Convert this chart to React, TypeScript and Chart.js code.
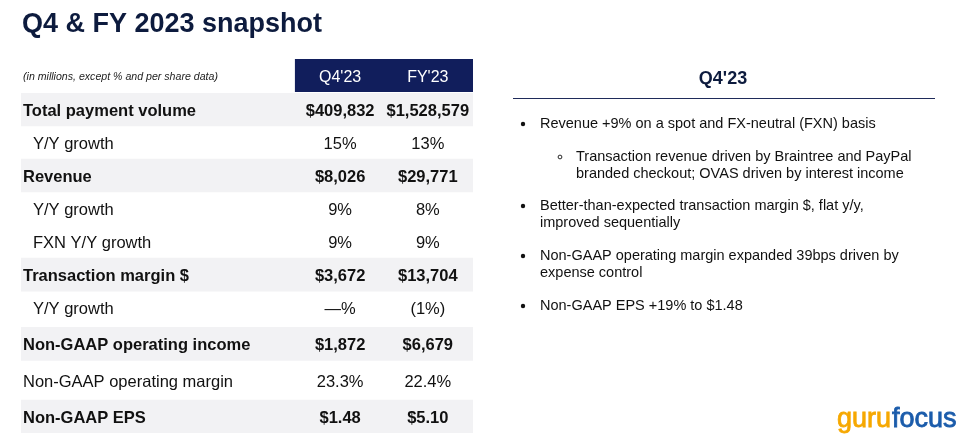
import React, { useEffect, useRef } from "react";
import { Chart, registerables } from "chart.js";

Chart.register(...registerables);

// ---- data ----
const pageTitle = "Q4 & FY 2023 snapshot";
const unitNote = "(in millions, except % and per share data)";
const columnLabels = ["Q4'23", "FY'23"];
const rowLabels = [
  "Total payment volume",
  "Y/Y growth",
  "Revenue",
  "Y/Y growth",
  "FXN Y/Y growth",
  "Transaction margin $",
  "Y/Y growth",
  "Non-GAAP operating income",
  "Non-GAAP operating margin",
  "Non-GAAP EPS",
];
const rowKinds = ["major", "sub", "major", "sub", "sub", "major", "sub", "major", "plain", "major"];
const q4Values = ["$409,832", "15%", "$8,026", "9%", "9%", "$3,672", "—%", "$1,872", "23.3%", "$1.48"];
const fyValues = ["$1,528,579", "13%", "$29,771", "8%", "9%", "$13,704", "(1%)", "$6,679", "22.4%", "$5.10"];
const panelTitle = "Q4'23";
const bullets: { level: number; lines: string[] }[] = [
  { level: 0, lines: ["Revenue +9% on a spot and FX-neutral (FXN) basis"] },
  { level: 1, lines: ["Transaction revenue driven by Braintree and PayPal", "branded checkout; OVAS driven by interest income"] },
  { level: 0, lines: ["Better-than-expected transaction margin $, flat y/y,", "improved sequentially"] },
  { level: 0, lines: ["Non-GAAP operating margin expanded 39bps driven by", "expense control"] },
  { level: 0, lines: ["Non-GAAP EPS +19% to $1.48"] },
];

// ---- layout (style) ----
const FONT = '"Liberation Sans", Arial, sans-serif';
const NAVY = "#0d1b3e";
const HEADER_BG = "#111e5c";
const SHADE = "#f2f2f4";
const TEXT = "#111111";
const COL_CENTERS = [70.6, 90.0]; // in table-width percent
const HEADER_START = 60.6;
const TEXT_NUDGE = 2;
const rowSteps = rowLabels.map((_, i) => (i === 0 ? 0 : i >= 7 ? 1.1 : 1));
const rowPositions = rowSteps.reduce<number[]>((acc, s, i) => {
  acc.push(i === 0 ? 0 : acc[i - 1] + s);
  return acc;
}, []);

export default function App() {
  const ref = useRef<HTMLCanvasElement | null>(null);

  useEffect(() => {
    document.body.style.margin = "0";
    document.body.style.background = "#ffffff";
    const canvas = ref.current!;
    const lastPos = rowPositions[rowPositions.length - 1];

    const textPlugin = {
      id: "slideText",
      afterDatasetsDraw(chart: any) {
        const ctx = chart.ctx as CanvasRenderingContext2D;
        const xs = chart.scales.x;
        const ys = chart.scales.y;
        ctx.save();

        // Title
        ctx.fillStyle = NAVY;
        ctx.font = `bold 27px ${FONT}`;
        ctx.textAlign = "left";
        ctx.textBaseline = "alphabetic";
        ctx.fillText(pageTitle, 22, 32);

        // Unit note
        ctx.fillStyle = "#222222";
        ctx.font = `italic 10.6px ${FONT}`;
        ctx.textBaseline = "middle";
        ctx.fillText(unitNote, 23, 77);

        // Header box
        const hx0 = xs.getPixelForValue(HEADER_START);
        const hx1 = xs.getPixelForValue(100);
        ctx.fillStyle = HEADER_BG;
        ctx.fillRect(hx0, 59, hx1 - hx0, 33);
        ctx.fillStyle = "#ffffff";
        ctx.font = `16px ${FONT}`;
        ctx.textAlign = "center";
        columnLabels.forEach((c, j) => {
          ctx.fillText(c, xs.getPixelForValue(COL_CENTERS[j]), 78);
        });

        // Rows
        rowLabels.forEach((label, i) => {
          const y = ys.getPixelForValue(rowPositions[i]) + TEXT_NUDGE;
          const kind = rowKinds[i];
          const bold = kind === "major";
          ctx.fillStyle = TEXT;
          ctx.font = `${bold ? "bold " : ""}16.5px ${FONT}`;
          ctx.textAlign = "left";
          ctx.fillText(label, kind === "sub" ? 33 : 23, y);
          ctx.textAlign = "center";
          ctx.fillText(q4Values[i], xs.getPixelForValue(COL_CENTERS[0]), y);
          ctx.fillText(fyValues[i], xs.getPixelForValue(COL_CENTERS[1]), y);
        });

        // Right panel
        ctx.fillStyle = NAVY;
        ctx.font = `bold 18px ${FONT}`;
        ctx.textAlign = "center";
        ctx.fillText(panelTitle, 723, 79);
        ctx.strokeStyle = "#1f2b5a";
        ctx.lineWidth = 1;
        ctx.beginPath();
        ctx.moveTo(513, 98.5);
        ctx.lineTo(935, 98.5);
        ctx.stroke();

        ctx.font = `14.5px ${FONT}`;
        ctx.textAlign = "left";
        ctx.fillStyle = TEXT;
        const lineH = 17;
        const gaps = [0, 33, 49, 50, 50];
        let y = 124;
        bullets.forEach((b, bi) => {
          if (bi > 0) y += gaps[bi];
          const bx = b.level === 0 ? 523 : 560;
          const tx = b.level === 0 ? 540 : 576;
          ctx.beginPath();
          if (b.level === 0) {
            ctx.arc(bx, y, 2.2, 0, Math.PI * 2);
            ctx.fill();
          } else {
            ctx.lineWidth = 0.9;
            ctx.strokeStyle = TEXT;
            ctx.arc(bx, y, 1.9, 0, Math.PI * 2);
            ctx.stroke();
          }
          b.lines.forEach((ln, li) => {
            ctx.fillText(ln, tx, y + li * lineH);
          });
        });

        // Logo
        ctx.font = `27px ${FONT}`;
        ctx.textBaseline = "alphabetic";
        ctx.textAlign = "left";
        ctx.lineWidth = 0.8;
        ctx.fillStyle = "#f6a800";
        ctx.strokeStyle = "#f6a800";
        ctx.fillText("guru", 837, 427);
        ctx.strokeText("guru", 837, 427);
        const gw = ctx.measureText("guru").width;
        ctx.fillStyle = "#1b5cab";
        ctx.strokeStyle = "#1b5cab";
        ctx.fillText("focus", 837 + gw + 1, 427);
        ctx.strokeText("focus", 837 + gw + 1, 427);

        ctx.restore();
      },
    };

    const shadeData = rowPositions
      .map((p, i) => ({ y: p, x: [0, 100], kind: rowKinds[i] }))
      .filter((d) => d.kind === "major")
      .map((d) => ({ y: d.y, x: d.x }));

    const chart = new Chart(canvas, {
      type: "bar",
      data: {
        datasets: [
          {
            data: shadeData as any,
            backgroundColor: SHADE,
            borderWidth: 0,
            barThickness: 33,
          } as any,
        ],
      },
      options: {
        indexAxis: "y",
        responsive: false,
        animation: false,
        devicePixelRatio: 1,
        layout: { padding: { left: 21, right: 487, top: 93, bottom: 8 } },
        plugins: { legend: { display: false }, tooltip: { enabled: false } },
        scales: {
          x: { type: "linear", min: 0, max: 100, display: false, offset: false },
          y: {
            type: "linear",
            min: -0.5,
            max: lastPos + 0.5,
            reverse: true,
            display: false,
            offset: false,
            grid: { offset: false },
          },
        },
      },
      plugins: [textPlugin],
    });
    return () => chart.destroy();
  }, []);

  return (
    <div style={{ width: 960, height: 441, position: "relative" }}>
      <canvas ref={ref} width={960} height={441} style={{ display: "block", width: 960, height: 441 }} />
    </div>
  );
}
